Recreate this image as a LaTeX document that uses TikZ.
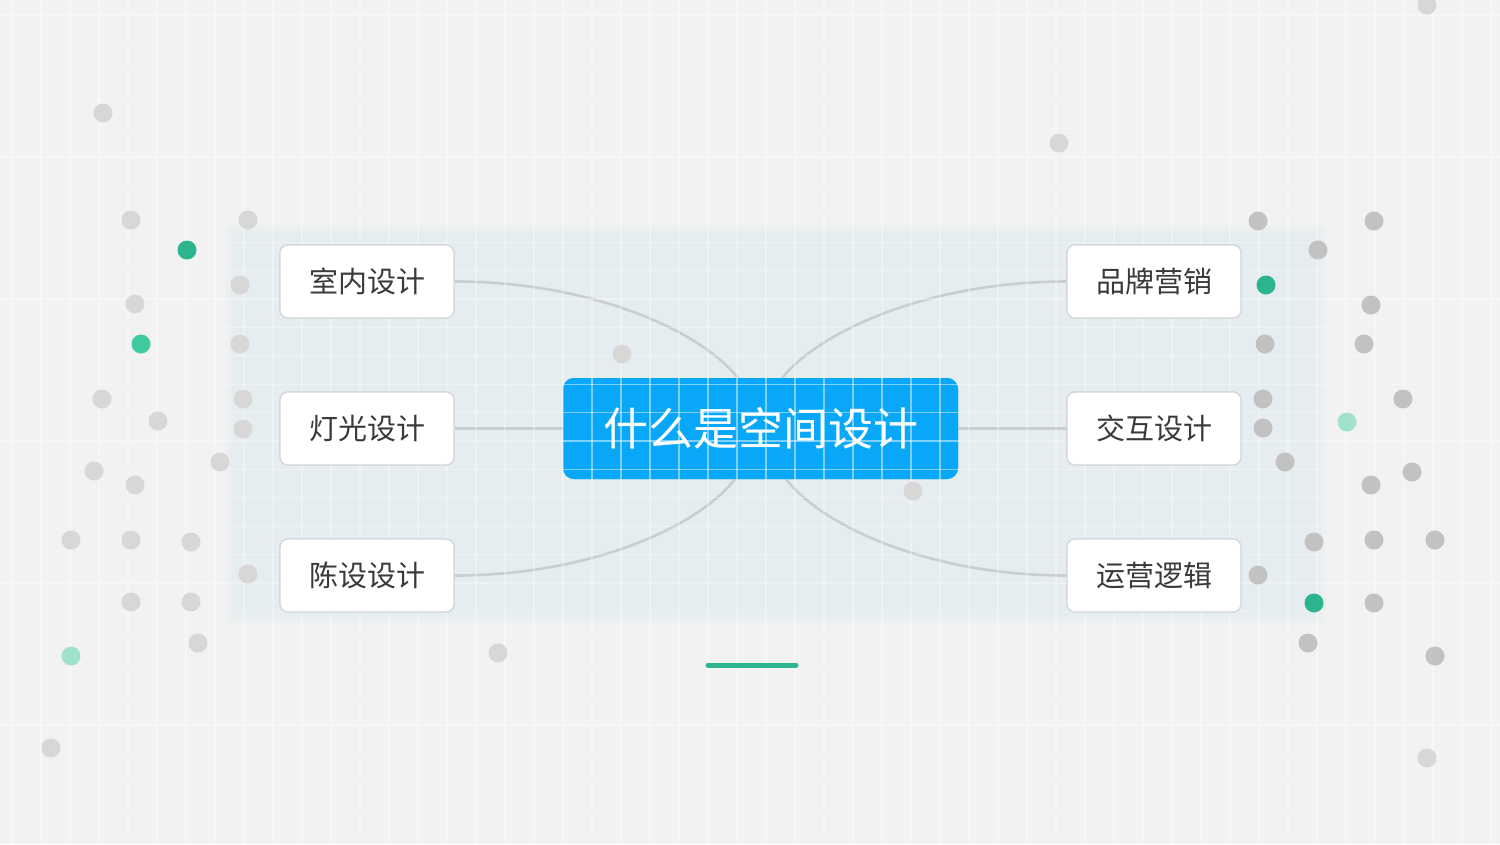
\documentclass[tikz,border=0pt]{standalone}
\usepackage{fontspec}
\newfontfamily\cjk{Noto Sans CJK SC}
\definecolor{bgc}{HTML}{F2F2F2}
\definecolor{panelc}{HTML}{E6EDF0}
\definecolor{linec}{HTML}{C9CED1}
\definecolor{bluec}{HTML}{09A7F7}
\definecolor{boxborder}{HTML}{D3D7D9}
\definecolor{txtc}{HTML}{3A3A3A}
\definecolor{dotl}{HTML}{D7D7D7}
\definecolor{dotd}{HTML}{C2C2C2}
\definecolor{greend}{HTML}{2BB48E}
\definecolor{greenm}{HTML}{3FCB9F}
\definecolor{greenl}{HTML}{A0E2CC}
\tikzset{
  topicbox/.style={draw=boxborder, line width=1.2pt, fill=white, rounded corners=8pt,
    minimum width=174pt, minimum height=73pt, inner sep=0pt, text=txtc,
    font=\cjk\fontsize{29}{29}\selectfont},
  centerbox/.style={fill=bluec, rounded corners=11pt, minimum width=395pt,
    minimum height=101pt, inner sep=0pt},
  centertext/.style={text=white, inner sep=0pt, font=\cjk\fontsize{45}{45}\selectfont},
  conn/.style={draw=linec, line width=2.6pt},
  gridline/.style={draw=white, line width=1.3pt, opacity=0.32},
  bluegrid/.style={draw=white, line width=1.3pt, opacity=0.22},
  ldot/.style={fill=dotl},
  ddot/.style={fill=dotd},
}
\begin{document}
\begin{tikzpicture}[x=1pt,y=-1pt]
\clip (0,0) rectangle (1500,844);
\fill[bgc] (0,0) rectangle (1500,844);
% panel with soft edge
\fill[panelc, opacity=0.35] (226,226) rectangle (1326,623);
\fill[panelc, opacity=0.6] (230,230) rectangle (1322,619);
\fill[panelc] (234,234) rectangle (1318,615);
% nodes
\node[topicbox] (a) at (367,281.5) {};
\node[topicbox] (b) at (367,428.5) {};
\node[topicbox] (c) at (367,575.5) {};
\node[topicbox] (d) at (1154,281.5) {};
\node[topicbox] (e) at (1154,428.5) {};
\node[topicbox] (f) at (1154,575.5) {};
\node[centerbox] (m) at (760.5,428.5) {};
\coordinate (mtl) at (738,378);
\coordinate (mtr) at (782,378);
\coordinate (mbl) at (735,479);
\coordinate (mbr) at (786,479);
\draw[conn] (a.east) .. controls (590,281.5) and (700,330) .. (mtl);
\draw[conn] (d.west) .. controls (931,281.5) and (821,330) .. (mtr);
\draw[conn] (c.east) .. controls (590,575.5) and (698,527) .. (mbl);
\draw[conn] (f.west) .. controls (931,575.5) and (823,527) .. (mbr);
\draw[conn] (b.east) -- (m.west);
\draw[conn] (e.west) -- (m.east);
% center box over connectors
\node[centerbox] at (m) {};
% grid
\foreach \k in {0,...,51} { \draw[gridline] (12+29*\k,0) -- (12+29*\k,844); }
\foreach \k in {0,...,29} { \draw[gridline] (0,15+28.4*\k) -- (1500,15+28.4*\k); }
\begin{scope}
  \clip[rounded corners=11pt] (m.north west) rectangle (m.south east);
  \foreach \k in {20,...,32} { \draw[bluegrid] (12+29*\k,370) -- (12+29*\k,490); }
  \foreach \k in {12,...,16} { \draw[bluegrid] (550,15+28.4*\k) -- (970,15+28.4*\k); }
\end{scope}
\node[centertext] (mt) at (m) {什么是空间设计};
% topic boxes on top
\node[topicbox] at (a) {室内设计};
\node[topicbox] at (b) {灯光设计};
\node[topicbox] at (c) {陈设设计};
\node[topicbox] at (d) {品牌营销};
\node[topicbox] at (e) {交互设计};
\node[topicbox] at (f) {运营逻辑};
% dots left (light gray)
\foreach \p in {(103,113),(131,220),(248,220),(135,304),(240,285),(240,344),(102,399),(158,421),(243,399),(243,429),(220,462),(94,471),(135,485),(71,540),(131,540),(191,542),(248,574),(131,602),(191,602),(198,643),(51,748),(622,354),(913,491),(498,653),(1059,143),(1427,5),(1427,758)}
  { \fill[ldot] \p circle (9.5); }
% dots right (darker gray)
\foreach \p in {(1258,221),(1374,221),(1318,250),(1371,305),(1265,344),(1364,344),(1263,399),(1403,399),(1263,428),(1285,462),(1412,472),(1371,485),(1314,542),(1374,540),(1435,540),(1258,575),(1374,603),(1308,643),(1435,656)}
  { \fill[ddot] \p circle (9.5); }
% green dots
\fill[greend] (187,250) circle (9.5);
\fill[greend] (1266,285) circle (9.5);
\fill[greend] (1314,603) circle (9.5);
\fill[greenm] (141,344) circle (9.5);
\fill[greenl] (71,656) circle (9.5);
\fill[greenl] (1347,422) circle (9.5);
% accent bar
\coordinate (bar1) at (708,665);
\coordinate (bar2) at (796,665);
\draw[greend, line width=5pt, line cap=round] (bar1) -- (bar2);
\end{tikzpicture}
\end{document}
